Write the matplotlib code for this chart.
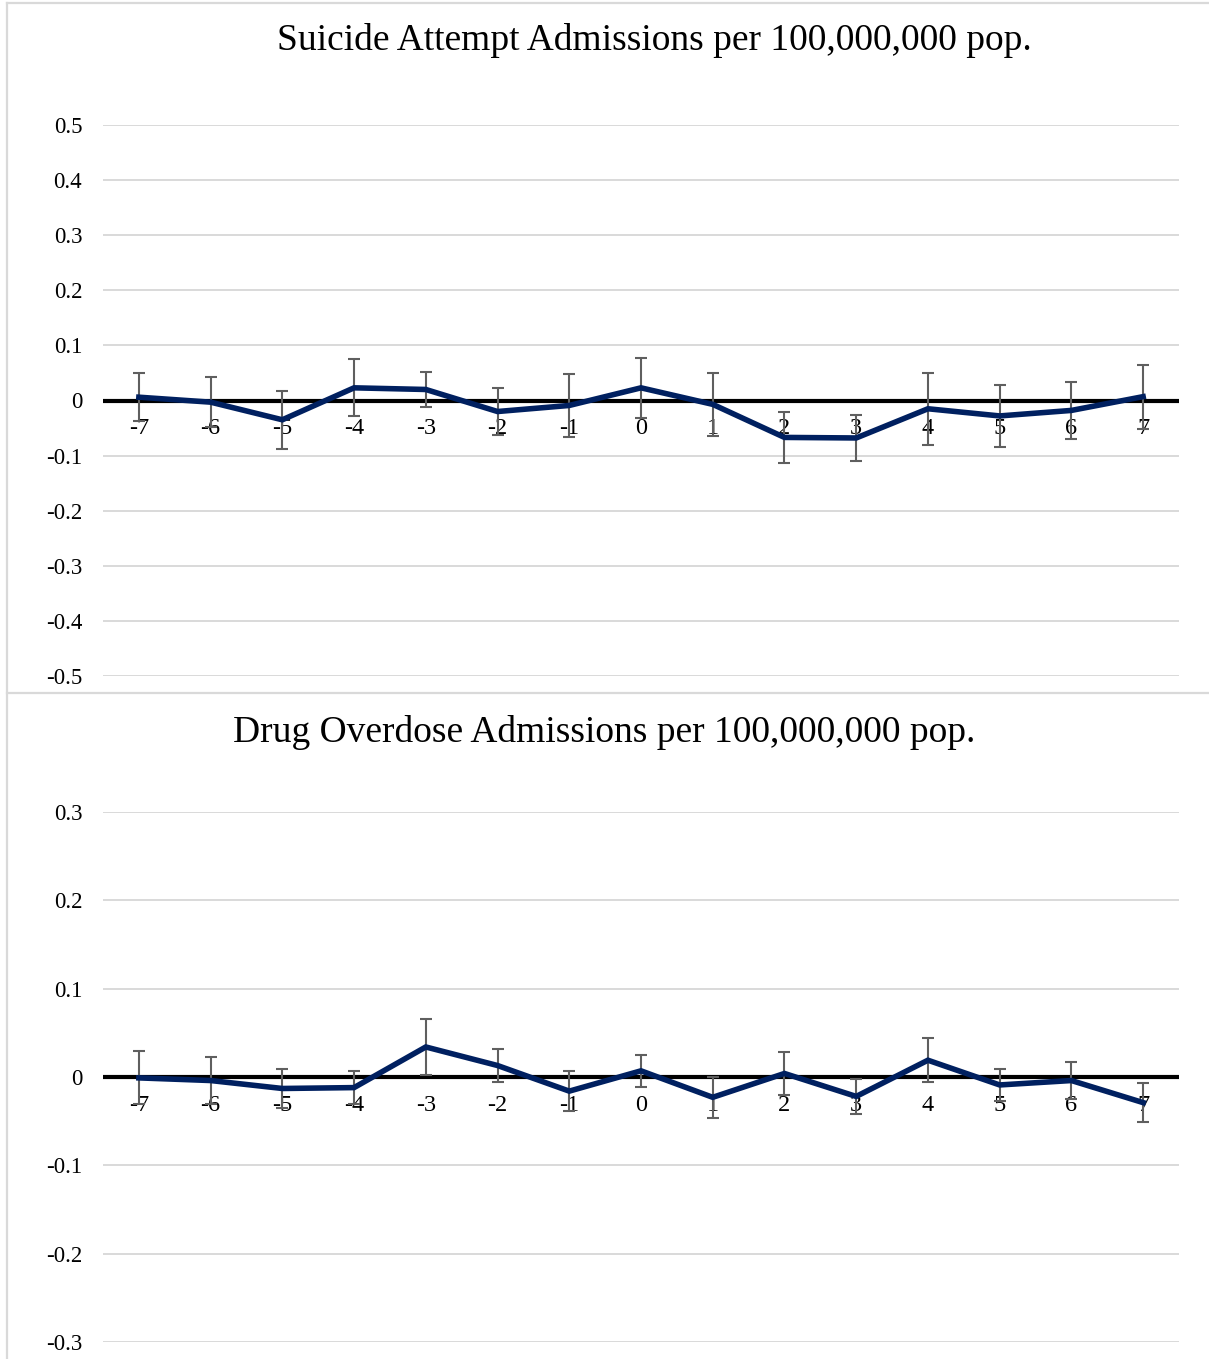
import matplotlib
matplotlib.use("Agg")
import matplotlib.pyplot as plt
from matplotlib.lines import Line2D

# Event time (years relative to treatment)
periods = [-7, -6, -5, -4, -3, -2, -1, 0, 1, 2, 3, 4, 5, 6, 7]
period_labels = [str(p) for p in periods]

# Suicide attempt admissions: coefficients and CI half-widths
suicide_coef = [0.006, -0.003, -0.035, 0.023, 0.020, -0.020, -0.009, 0.023,
                -0.007, -0.067, -0.068, -0.015, -0.028, -0.018, 0.007]
suicide_err = [0.044, 0.045, 0.053, 0.052, 0.031, 0.042, 0.057, 0.054,
               0.057, 0.046, 0.042, 0.065, 0.057, 0.052, 0.058]

# Drug overdose admissions: coefficients and CI half-widths
overdose_coef = [-0.001, -0.004, -0.013, -0.012, 0.034, 0.013, -0.016, 0.007,
                 -0.023, 0.004, -0.022, 0.019, -0.009, -0.004, -0.029]
overdose_err = [0.030, 0.027, 0.022, 0.019, 0.032, 0.019, 0.023, 0.018,
                0.023, 0.024, 0.020, 0.025, 0.018, 0.021, 0.022]

titles = ["Suicide Attempt Admissions per 100,000,000 pop.",
          "Drug Overdose Admissions per 100,000,000 pop."]
yticks_top = [0.5, 0.4, 0.3, 0.2, 0.1, 0, -0.1, -0.2, -0.3, -0.4, -0.5]
yticks_bottom = [0.3, 0.2, 0.1, 0, -0.1, -0.2, -0.3]

W, H = 1209, 1359
DPI = 100
SERIF = ["Liberation Serif", "DejaVu Serif"]
GRID = "#d9d9d9"
NAVY = "#002060"
BAR = "#5f5f5f"

fig = plt.figure(figsize=(W / DPI, H / DPI), dpi=DPI)
fig.patch.set_facecolor("white")


def fx(px):
    return px / W


def fy(py):
    return 1 - py / H


# chart-area borders
for (x0, y0, x1, y1) in [(7, 3, W, 3), (7, 3, 7, H), (7, 693, W, 693)]:
    fig.add_artist(Line2D([fx(x0), fx(x1)], [fy(y0), fy(y1)], color=GRID,
                          lw=1.6, transform=fig.transFigure))


def panel(top_px, bot_px, coef, err, yticks, ylim, title, title_xy):
    ax = fig.add_axes([fx(103), fy(bot_px), fx(1179) - fx(103),
                       fy(top_px) - fy(bot_px)])
    ax.set_xlim(-7.5, 7.5)
    ax.set_ylim(*ylim)
    for s in ax.spines.values():
        s.set_visible(False)
    ax.set_xticks([])
    ax.set_yticks(yticks)
    ax.set_yticklabels(["0" if t == 0 else f"{t:g}" for t in yticks],
                       fontfamily=SERIF, fontsize=16.5)
    ax.tick_params(axis="y", length=0, pad=15)
    for t in yticks:
        if t != 0:
            ax.axhline(t, color=GRID, lw=1.4, zorder=0)
    ax.axhline(0, color="black", lw=3, zorder=1)
    for p, lab in zip(periods, period_labels):
        ax.annotate(lab, (p, 0), xytext=(0, -20.5), textcoords="offset points",
                    ha="center", va="center", fontfamily=SERIF, fontsize=17.5,
                    zorder=2)
    ax.errorbar(periods, coef, yerr=err, fmt="none", ecolor=BAR,
                elinewidth=1.5, capsize=4.5, capthick=1.5, zorder=3)
    ax.plot(periods, coef, color=NAVY, lw=4.0, solid_joinstyle="miter",
            zorder=4)
    fig.text(fx(title_xy[0]), fy(title_xy[1]), title, ha="center",
             va="center", fontfamily=SERIF, fontsize=27)
    return ax


panel(125, 676, suicide_coef, suicide_err, yticks_top, (-0.5, 0.5),
      titles[0], (654, 40))
panel(812, 1342, overdose_coef, overdose_err, yticks_bottom, (-0.3, 0.3),
      titles[1], (604, 732))

fig.savefig("out.png", dpi=DPI)
